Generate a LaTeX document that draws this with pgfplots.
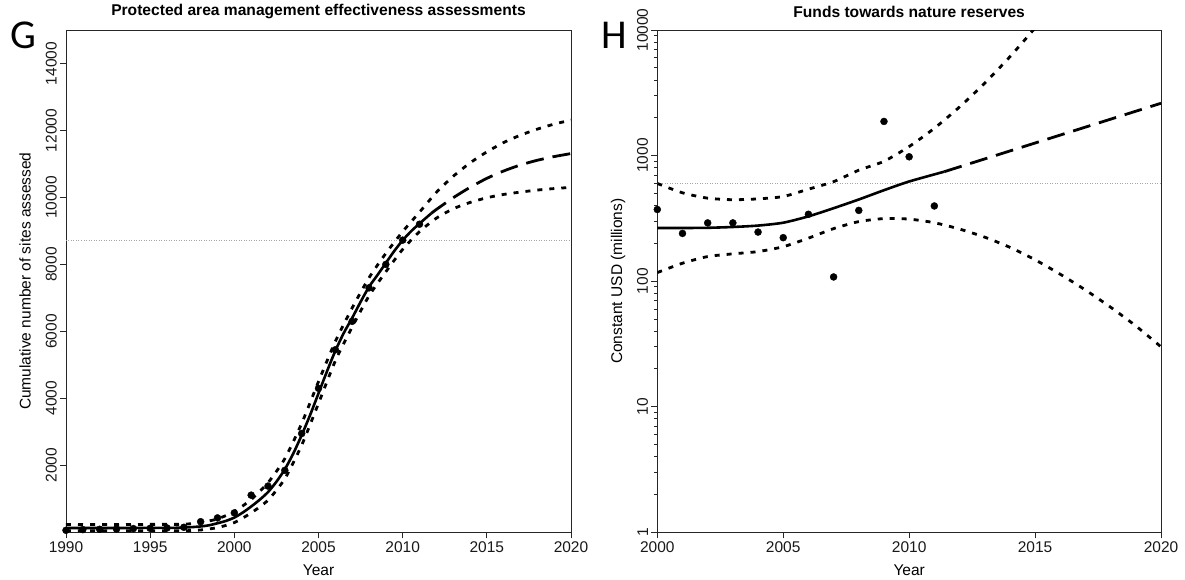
\documentclass[border=0pt]{standalone}
\usepackage{fontspec}
\setmainfont{Liberation Sans}
\newfontfamily\carlito{Carlito}
\usepackage{pgfplots}
\pgfplotsset{compat=1.18}
\pgfplotsset{
  panel/.style={
    scale only axis, height=502.3pt, anchor=south west,
    axis line style={line width=0.9pt, black!85},
    every tick/.style={line width=0.9pt, black!85},
    tick align=outside, major tick length=6pt, tick pos=left,
    /pgf/number format/assume math mode=true,
    /pgf/number format/1000 sep={},
    tick label style={font=\fontsize{15.5}{18}\selectfont, black!90},
    yticklabel style={rotate=90, anchor=south, inner sep=3pt},
    xticklabel style={inner sep=3.5pt},
    label style={font=\fontsize{15.5}{18}\selectfont},
    title style={font=\bfseries\fontsize{15.6}{18}\selectfont, at={(axis description cs:0.5,1.024)}, anchor=center},
    xlabel style={at={(axis description cs:0.5,-0.075)}, anchor=center},
  },
  fitl/.style={line width=2.6pt, black, line join=round, smooth, tension=0.4},
  proj/.style={line width=2.8pt, black, dash pattern=on 18pt off 9pt, smooth, tension=0.4},
  ci/.style={line width=2.8pt, black, dash pattern=on 5pt off 7pt, smooth, tension=0.4},
  refl/.style={line width=0.6pt, black!35, dash pattern=on 1pt off 1.5pt},
  pts/.style={only marks, mark=*, mark size=3.5pt, black},
}
\begin{document}
\begin{tikzpicture}
\path[use as bounding box] (0,0) rectangle (1185pt,579pt);
\begin{axis}[panel, at={(66pt,46.7pt)}, width=505pt,
  xmin=1990, xmax=2020, ymin=0, ymax=15000,
  xtick={1990,1995,...,2020}, ytick={2000,4000,...,14000},
  scaled y ticks=false,
  title={Protected area management effectiveness assessments},
  xlabel={Year}, ylabel={Cumulative number of sites assessed},
  ylabel style={at={(axis description cs:-0.081,0.5)}, anchor=center},
]
\addplot[refl] coordinates {(1990,8725) (2020,8725)};
\addplot[ci] coordinates {(1990,235)(1993,235)(1996,237)(1997,240)(1998,290)(1999,400)(2000,620)(2001,980)(2002,1480)(2003,2200)(2004,3250)(2005,4500)(2006,5700)(2007,6700)(2008,7600)(2009,8330)(2010,8980)(2011,9560)(2012,10150)(2013,10630)(2014,11030)(2015,11360)(2016,11640)(2017,11860)(2018,12040)(2019,12190)(2020,12310)};
\addplot[ci] coordinates {(1990,45)(1993,45)(1996,45)(1997,45)(1998,70)(1999,140)(2000,290)(2001,580)(2002,960)(2003,1600)(2004,2600)(2005,3850)(2006,5120)(2007,6130)(2008,7060)(2009,7780)(2010,8450)(2011,8980)(2012,9380)(2013,9660)(2014,9850)(2015,9990)(2016,10090)(2017,10160)(2018,10220)(2019,10265)(2020,10300)};
\addplot[fitl] coordinates {(1990,130)(1992,130)(1994,130)(1996,132)(1997,140)(1998,175)(1998.5,210)(1999,270)(1999.5,340)(2000,440)(2000.5,590)(2001,770)(2001.5,970)(2002,1200)(2002.5,1510)(2003,1880)(2003.5,2350)(2004,2900)(2004.5,3500)(2005,4150)(2005.5,4800)(2006,5420)(2006.5,5950)(2007,6400)(2007.5,6880)(2008,7330)(2008.5,7680)(2009,8040)(2009.5,8400)(2010,8720)(2010.5,8990)(2011,9220)(2011.7,9525)};
\addplot[proj] coordinates {(2011.7,9525)(2012,9640)(2013,9990)(2014,10300)(2015,10570)(2016,10790)(2017,10970)(2018,11110)(2019,11220)(2020,11310)};
\addplot[pts] coordinates {(1990,60)(1991,80)(1992,90)(1993,100)(1994,110)(1995,120)(1996,130)(1997,150)(1998,317)(1999,430)(2000,580)(2001,1110)(2002,1380)(2003,1850)(2004,2950)(2005,4300)(2006,5450)(2007,6300)(2008,7300)(2009,8000)(2010,8725)(2011,9200)};
\end{axis}
\begin{axis}[panel, at={(657.3pt,46.7pt)}, width=503.7pt,
  xmin=2000, xmax=2020, ymode=log, ymin=1, ymax=10000,
  xtick={2000,2005,...,2020}, ytick={1,10,100,1000,10000},
  yticklabels={1,10,100,1000,10000},
  title={Funds towards nature reserves},
  xlabel={Year}, ylabel={Constant USD (millions)},
  ylabel style={at={(axis description cs:-0.078,0.5)}, anchor=center},
]
\addplot[refl] coordinates {(2000,600) (2020,600)};
\addplot[ci] coordinates {(2000,600)(2001,505)(2002,458)(2003,445)(2004,452)(2005,472)(2006,540)(2007,620)(2008,765)(2009,900)(2010,1180)(2011,1650)(2012,2438)(2013,3776)(2014,6124)(2015,10400)(2016,18500)};
\addplot[ci] coordinates {(2000,117)(2001,139)(2002,157)(2003,165)(2004,172)(2005,188)(2006,220)(2007,262)(2008,298)(2009,315)(2010,312)(2011,292)(2012,260)(2013,224)(2014,186)(2015,148)(2016,113.5)(2017,85)(2018,62)(2019,44)(2020,30)};
\addplot[fitl] coordinates {(2000,265)(2001,265)(2002,266)(2003,270)(2004,277)(2005,292)(2006,328)(2007,381)(2008,447)(2009,530)(2010,622)(2011.4,745)};
\addplot[proj] coordinates {(2011.4,745)(2020,2610)};
\addplot[pts] coordinates {(2000,372)(2001,240)(2002,291)(2003,291)(2004,246)(2005,222)(2006,341)(2007,108)(2008,366)(2009,1870)(2010,978)(2011,397)};
\end{axis}
\node[font=\carlito\fontsize{41}{41}\selectfont, anchor=center] at (23pt,544pt) {G};
\node[font=\carlito\fontsize{41}{41}\selectfont, anchor=center] at (614pt,544pt) {H};
\end{tikzpicture}
\end{document}
